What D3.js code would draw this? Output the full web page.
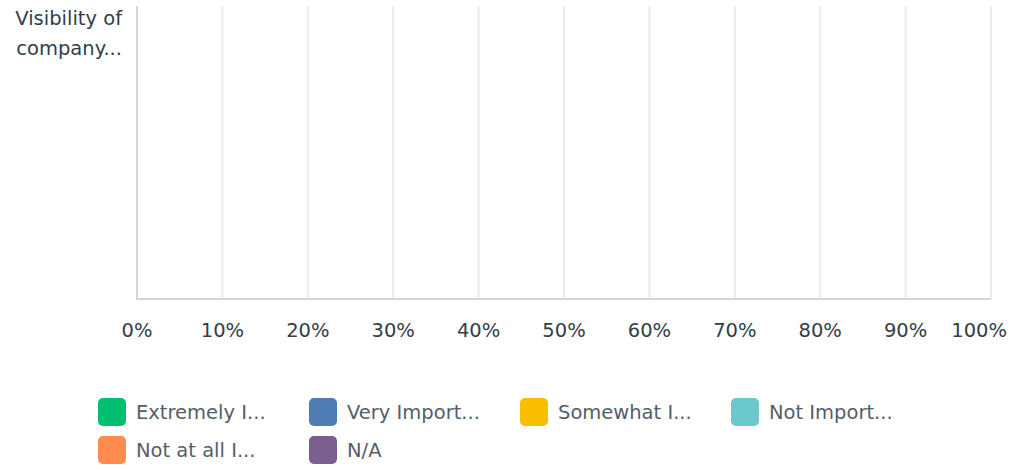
<!DOCTYPE html>
<html>
<head>
<meta charset="utf-8">
<script src="https://cdn.jsdelivr.net/npm/d3@7"></script>
<style>
	body { margin: 0; background: #fff; }
	text { font-family: "DejaVu Sans", "Open Sans", sans-serif; }
</style>
</head>
<body>
<div id="chart"></div>
<script>
const categories = ['Visibility of company...'];
const categoryLines = [['Visibility of', 'company...']];
const seriesNames = ['Extremely I...', 'Very Import...', 'Somewhat I...', 'Not Import...', 'Not at all I...', 'N/A'];
const seriesColors = ['#00bf6f', '#507cb6', '#f9be00', '#6bc8cd', '#ff8b4f', '#7d5e90'];
// no responses shown: every series is 0%
const seriesValues = [[0], [0], [0], [0], [0], [0]];
const xTicks = [0, 10, 20, 30, 40, 50, 60, 70, 80, 90, 100];

const width = 1011, height = 470;
const plot = {left: 137, right: 991, top: 6, bottom: 299};
const fontSize = 19.5;

const svg = d3.select('#chart').append('svg')
	.attr('width', width)
	.attr('height', height);

const x = d3.scaleLinear().domain([0, 100]).range([plot.left, plot.right]);
const y = d3.scaleBand().domain(categories).range([plot.top, plot.bottom]).padding(0.2);

// grid
svg.append('g')
	.selectAll('line')
	.data(xTicks.slice(1))
	.join('line')
	.attr('x1', d => x(d)).attr('x2', d => x(d))
	.attr('y1', plot.top).attr('y2', plot.bottom)
	.attr('stroke', '#ebebeb')
	.attr('stroke-width', 2);

// stacked bars
const table = categories.map((c, i) => {
	const row = {category: c};
	seriesNames.forEach((s, j) => { row[s] = seriesValues[j][i]; });
	return row;
});
const stacked = d3.stack().keys(seriesNames)(table);
svg.append('g')
	.selectAll('g')
	.data(stacked)
	.join('g')
	.attr('fill', (d, i) => seriesColors[i])
	.selectAll('rect')
	.data(d => d)
	.join('rect')
	.attr('x', d => x(d[0]))
	.attr('width', d => x(d[1]) - x(d[0]))
	.attr('y', d => y(d.data.category))
	.attr('height', y.bandwidth());

// axes lines
svg.append('line')
	.attr('x1', plot.left).attr('x2', plot.left)
	.attr('y1', plot.top).attr('y2', plot.bottom + 1)
	.attr('stroke', '#d5d5d5').attr('stroke-width', 2);
svg.append('line')
	.attr('x1', plot.left - 1).attr('x2', plot.right)
	.attr('y1', plot.bottom).attr('y2', plot.bottom)
	.attr('stroke', '#d5d5d5').attr('stroke-width', 2);

// x tick labels, last one kept inside the window
svg.append('g')
	.selectAll('text')
	.data(xTicks)
	.join('text')
	.attr('x', d => x(d))
	.attr('y', 337)
	.attr('text-anchor', 'middle')
	.attr('font-size', fontSize)
	.attr('fill', '#333e48')
	.text(d => d + '%')
	.each(function() {
		const b = this.getBBox();
		if (b.x + b.width > width - 4) {
			d3.select(this).attr('x', +d3.select(this).attr('x') - (b.x + b.width - (width - 4)));
		}
	});

// category labels, top-aligned with the plot
const catG = svg.append('g');
categories.forEach((c, i) => {
	const t = catG.append('text')
		.attr('text-anchor', 'end')
		.attr('font-size', fontSize)
		.attr('fill', '#333e48');
	categoryLines[i].forEach((line, k) => {
		t.append('tspan')
			.attr('x', 122)
			.attr('y', plot.top + 19 + k * 30)
			.text(line);
	});
});

// legend
const legend = svg.append('g');
const item = legend.selectAll('g')
	.data(seriesNames)
	.join('g')
	.attr('transform', (d, i) => `translate(${98 + (i % 4) * 211},${398 + Math.floor(i / 4) * 38})`);
item.append('rect')
	.attr('width', 28).attr('height', 28)
	.attr('rx', 5)
	.attr('fill', (d, i) => seriesColors[i]);
item.append('text')
	.attr('x', 38).attr('y', 21)
	.attr('font-size', fontSize)
	.attr('fill', '#545e68')
	.text(d => d);
</script>
</body>
</html>
